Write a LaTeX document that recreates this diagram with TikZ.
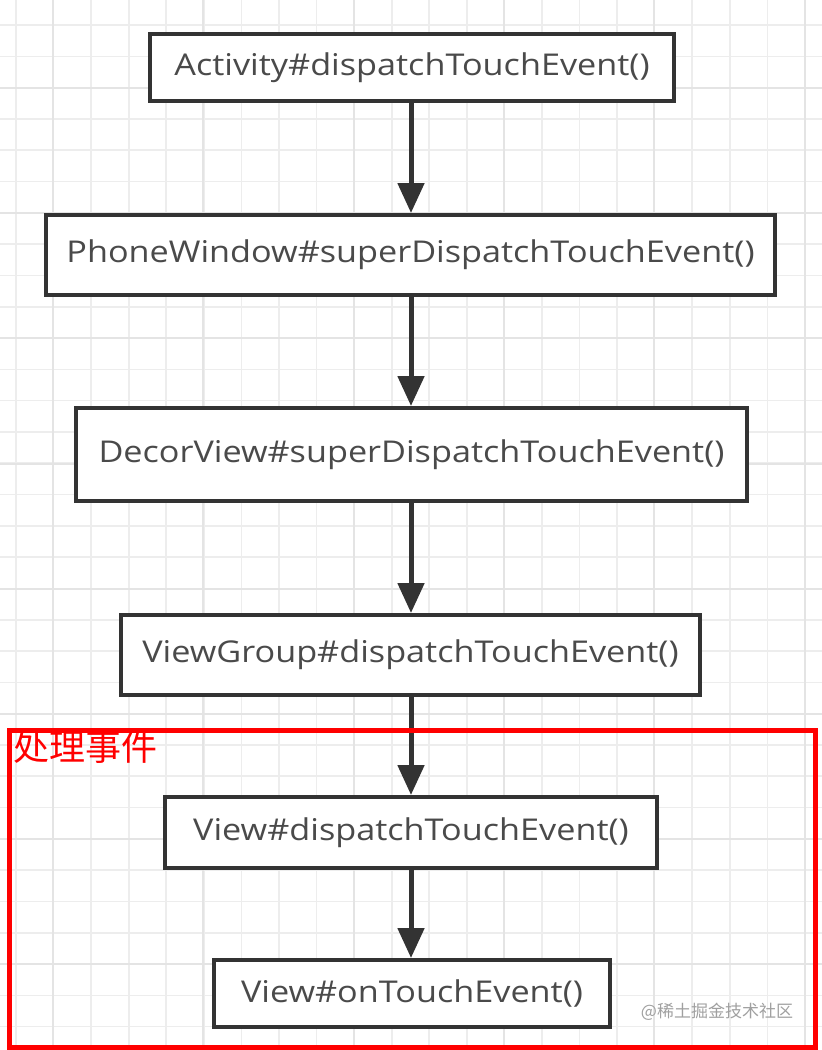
\documentclass[tikz,border=0pt]{standalone}
\usepackage{fontspec}
\usepackage{tikz}
\usetikzlibrary{arrows.meta,positioning,calc}
\setmainfont{Open Sans}
\newfontfamily\boxfont[FakeStretch=1.14]{Open Sans}
\newfontfamily\cjkfont{Noto Sans CJK SC}
\definecolor{GridGray}{HTML}{EDEDED}
\definecolor{GridMajor}{HTML}{E4E4E4}
\definecolor{FlowInk}{HTML}{333333}
\definecolor{FlowText}{HTML}{4A4A4A}
\definecolor{MarkRed}{HTML}{FF0000}
\definecolor{MarkGray}{HTML}{A0A0A0}

\begin{document}
\begin{tikzpicture}[x=1pt,y=-1pt]
\tikzset{call/.style={draw=FlowInk,line width=4pt,fill=white,text=FlowText,inner sep=0pt,font=\boxfont\fontsize{30}{34}\selectfont},arr/.style={-{Triangle[width=26pt,length=30pt]},FlowInk,line width=5pt},gridline/.style={GridGray,line width=1.6pt},gridmajor/.style={GridMajor,line width=2pt}}
\useasboundingbox (0,0) rectangle (822,1050);
\fill[white] (0,0) rectangle (822,1050);
% background grid
\foreach \i in {0,...,21} \draw[gridline] ({16+37.57*\i},0) -- ++(0,1050);
\foreach \i in {0,...,32} \draw[gridline] (0,{25+31.3*\i}) -- ++(822,0);
\foreach \i in {0,...,5} \draw[gridmajor] ({53+150.3*\i},0) -- ++(0,1050);
\foreach \i in {0,...,7} \draw[gridmajor] (0,{88+125.2*\i}) -- ++(822,0);
% call chain
\node[call,minimum width=524pt,minimum height=67pt] (act) at (412,67.5) {Activity\#dispatchTouchEvent()};
\node[call,minimum width=729pt,minimum height=80pt] (phone) at (410.5,255) {PhoneWindow\#superDispatchTouchEvent()};
\node[call,minimum width=671pt,minimum height=93pt] (decor) at (411.5,454.5) {DecorView\#superDispatchTouchEvent()};
\node[call,minimum width=579pt,minimum height=80pt] (group) at (410.5,655) {ViewGroup\#dispatchTouchEvent()};
\node[call,minimum width=492pt,minimum height=71pt] (vdisp) at (411,832.5) {View\#dispatchTouchEvent()};
\node[call,minimum width=396pt,minimum height=67pt] (vtouch) at (412,993.5) {View\#onTouchEvent()};
\draw[arr] (act.south -| 411,0) -- (phone.north -| 411,0);
\draw[arr] (phone.south -| 411,0) -- (decor.north -| 411,0);
\draw[arr] (decor.south -| 411,0) -- (group.north -| 411,0);
\draw[arr] (group.south -| 411,0) -- (vdisp.north -| 411,0);
\draw[arr] (vdisp.south -| 411,0) -- (vtouch.north -| 411,0);
% handled region
\draw[MarkRed,line width=5pt] (9.5,730.5) rectangle (815.5,1047.5);
\node[anchor=north west,inner sep=0pt,text=MarkRed,font=\cjkfont\fontsize{36}{38}\selectfont] (handle) at (13,730) {处理事件};
\node[inner sep=0pt,text=MarkGray,font=\cjkfont\fontsize{17}{20}\selectfont] (mark) at (717,1012) {@稀土掘金技术社区};
\end{tikzpicture}
\end{document}
